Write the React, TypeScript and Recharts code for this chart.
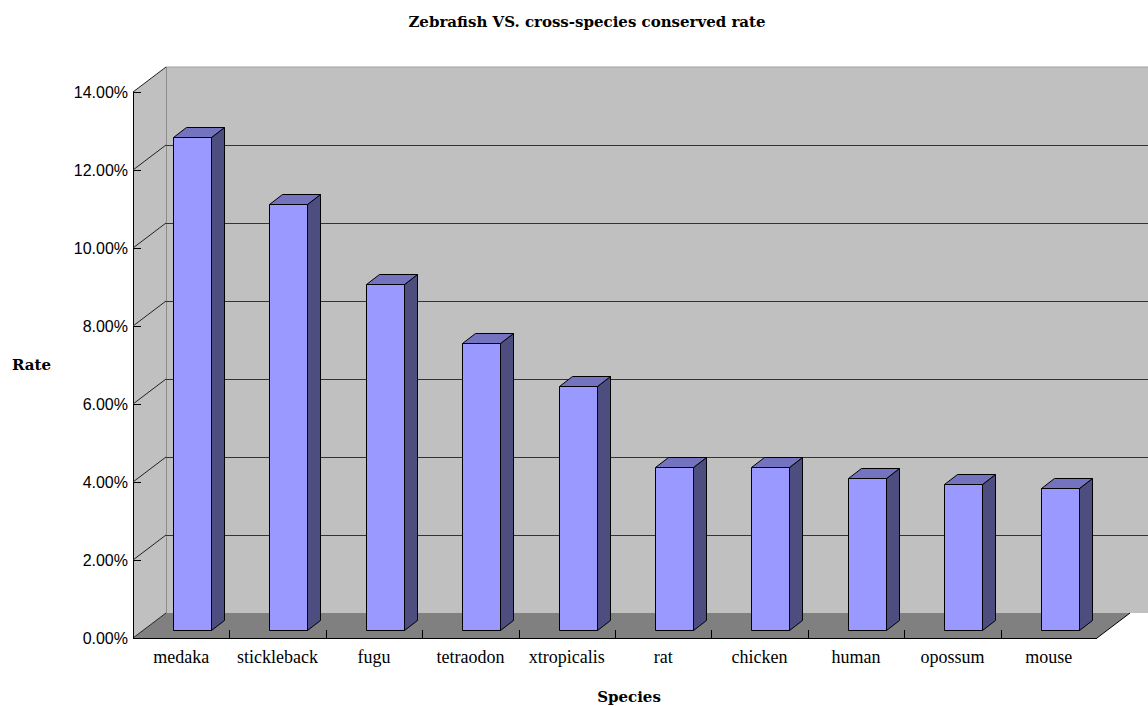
import { Bar, BarChart, CartesianGrid, XAxis, YAxis } from "recharts";

// values (fraction, not percent)
const species = [
  "medaka",
  "stickleback",
  "fugu",
  "tetraodon",
  "xtropicalis",
  "rat",
  "chicken",
  "human",
  "opossum",
  "mouse",
];
const rates = [0.1264, 0.1092, 0.0887, 0.0736, 0.0626, 0.0418, 0.0418, 0.039, 0.0374, 0.0364];
const yTicks = [0, 0.02, 0.04, 0.06, 0.08, 0.1, 0.12, 0.14];

const data = species.map((name, i) => ({ name, rate: rates[i] }));

const W = 1148;
const H = 706;
const AXIS_W = 133;
const AXIS_H = 68;
const TOP = 92;
const RIGHT = 51;
const BOTTOM = H - AXIS_H;

// 3d box depth (back wall offset) and bar depth
const DX = 33;
const DY = 25;
const BAR_SHIFT_X = 11;
const BAR_SHIFT_Y = 8;
const BAR_DX = 13;
const BAR_DY = 10;

const serif = '"DejaVu Serif", serif';
const sans = '"Liberation Sans", Arial, sans-serif';

function Box({ left, right }: { left: number; right: number }) {
  return (
    <g>
      {/* back wall */}
      <rect x={left + DX} y={TOP - DY} width={W - left - DX} height={BOTTOM - TOP} fill="#c0c0c0" />
      <line x1={left + DX} y1={TOP - DY} x2={W} y2={TOP - DY} stroke="#a0a0a0" />
      {/* side wall */}
      <polygon
        points={`${left},${TOP} ${left + DX},${TOP - DY} ${left + DX},${BOTTOM - DY} ${left},${BOTTOM}`}
        fill="#c0c0c0"
      />
      <line x1={left + DX + 0.5} y1={TOP - DY} x2={left + DX + 0.5} y2={BOTTOM - DY} stroke="#8c8c8c" />
      {/* floor */}
      <polygon
        points={`${left},${BOTTOM} ${left + DX},${BOTTOM - DY} ${right + DX},${BOTTOM - DY} ${right},${BOTTOM}`}
        fill="#808080"
      />
      <line x1={left} y1={BOTTOM} x2={left + DX} y2={BOTTOM - DY} stroke="#222" />
      <line x1={left} y1={TOP} x2={left + DX} y2={TOP - DY} stroke="#222" />
      <line x1={right} y1={BOTTOM} x2={right + DX} y2={BOTTOM - DY} stroke="#000" />
      <line x1={left} y1={BOTTOM + 0.5} x2={right} y2={BOTTOM + 0.5} stroke="#000" />
      <line x1={left + 0.5} y1={TOP} x2={left + 0.5} y2={BOTTOM} stroke="#000" />
    </g>
  );
}

function GridLine(props: any) {
  const { x1, x2, y1, index } = props;
  const edge = Math.abs(y1 - TOP) < 1 || Math.abs(y1 - BOTTOM) < 1;
  return (
    <g key={`grid-${index}`}>
      {index === 0 && <Box left={x1} right={x2} />}
      {!edge && (
        <>
          <line x1={x1 + DX} y1={y1 - DY + 0.5} x2={W} y2={y1 - DY + 0.5} stroke="#333" />
          <line x1={x1} y1={y1} x2={x1 + DX} y2={y1 - DY} stroke="#222" />
        </>
      )}
      <line x1={x1} y1={Math.round(y1) + 0.5} x2={x1 + 8} y2={Math.round(y1) + 0.5} stroke="#000" />
    </g>
  );
}

function Bar3D(props: any) {
  const { x, y, width, height } = props;
  if (height == null || height <= 0) return null;
  const fx = Math.round(x + BAR_SHIFT_X) + 0.5;
  const fy = Math.round(y - BAR_SHIFT_Y) + 0.5;
  const w = Math.round(width);
  const h = Math.round(height);
  return (
    <g stroke="#000" strokeWidth={1} strokeLinejoin="round">
      <polygon
        points={`${fx + w},${fy} ${fx + w + BAR_DX},${fy - BAR_DY} ${fx + w + BAR_DX},${fy + h - BAR_DY} ${fx + w},${fy + h}`}
        fill="#4d4d80"
      />
      <polygon
        points={`${fx},${fy} ${fx + BAR_DX},${fy - BAR_DY} ${fx + w + BAR_DX},${fy - BAR_DY} ${fx + w},${fy}`}
        fill="#7373bf"
      />
      <rect x={fx} y={fy} width={w} height={h} fill="#9999ff" />
    </g>
  );
}

function SpeciesTick(props: any) {
  const { x, y, payload } = props;
  const half = payload?.offset ?? 48.2;
  const bx = Math.round(x - half) + 0.5;
  return (
    <g>
      {payload.index > 0 && <line x1={bx} y1={BOTTOM - 8} x2={bx} y2={BOTTOM} stroke="#000" />}
      <text x={x} y={y + 25} textAnchor="middle" fontFamily={'"Liberation Serif", serif'} fontSize={18} fill="#000">
        {payload.value}
      </text>
    </g>
  );
}

export default function App() {
  return (
    <div style={{ position: "absolute", left: 0, top: 0, width: W, height: H, background: "#fff" }}>
      <div
        style={{
          position: "absolute",
          left: 0,
          width: 1174,
          top: 13,
          textAlign: "center",
          fontFamily: serif,
          fontWeight: "bold",
          fontSize: 15,
          color: "#000",
        }}
      >
        Zebrafish VS. cross-species conserved rate
      </div>
      <BarChart
        width={W}
        height={H}
        data={data}
        margin={{ top: TOP, right: RIGHT, bottom: 0, left: 0 }}
        barSize={38}
      >
        <CartesianGrid vertical={false} horizontal={GridLine} fill="none" stroke="none" />
        <YAxis
          width={AXIS_W}
          domain={[0, 0.14]}
          ticks={yTicks}
          interval={0}
          axisLine={false}
          tickLine={false}
          tickSize={5}
          tickMargin={0}
          tickFormatter={(v: number) => `${(v * 100).toFixed(2)}%`}
          tick={{ fontFamily: sans, fontSize: 16, fill: "#000" }}
          label={{
            value: "Rate",
            position: "insideLeft",
            offset: 12,
            style: { fontFamily: serif, fontWeight: "bold", fontSize: 15, fill: "#000", textAnchor: "start" },
          }}
        />
        <XAxis
          dataKey="name"
          height={AXIS_H}
          interval={0}
          axisLine={false}
          tickLine={false}
          tickSize={0}
          tickMargin={0}
          tick={<SpeciesTick />}
          label={{
            value: "Species",
            position: "insideBottom",
            offset: 4,
            dx: 14,
            style: { fontFamily: serif, fontWeight: "bold", fontSize: 15, fill: "#000" },
          }}
        />
        <Bar dataKey="rate" shape={<Bar3D />} isAnimationActive={false} />
      </BarChart>
    </div>
  );
}
